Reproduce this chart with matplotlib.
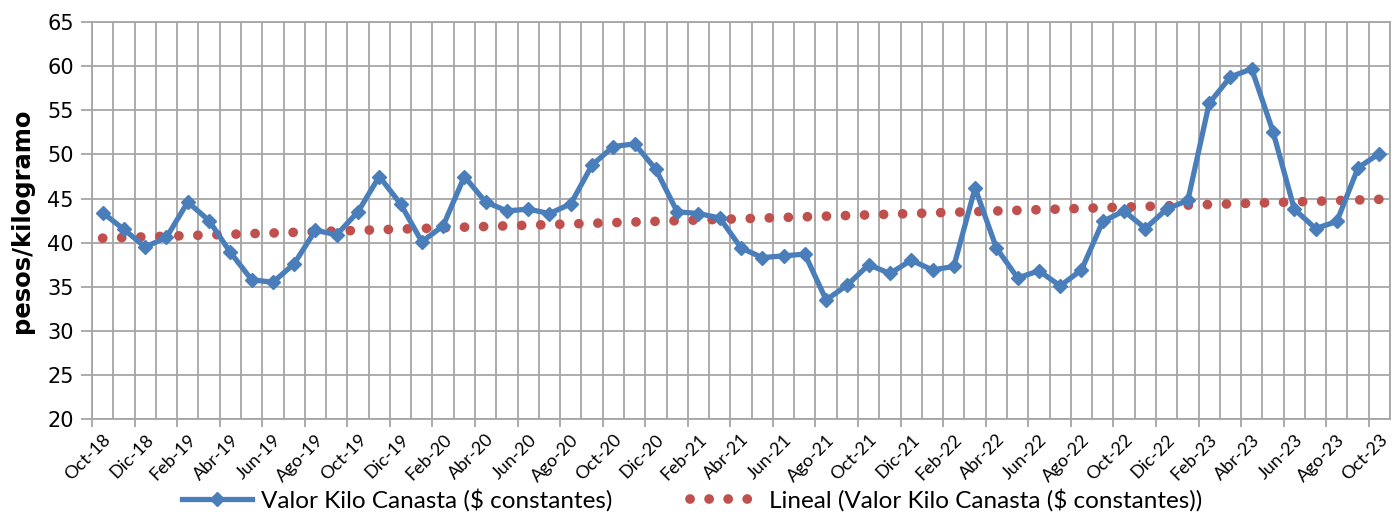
import numpy as np
import matplotlib
matplotlib.use("Agg")
import matplotlib.pyplot as plt

plt.rcParams['font.family'] = ['Lato', 'DejaVu Sans']

# months Oct-18 .. Oct-23
meses = ['Ene', 'Feb', 'Mar', 'Abr', 'May', 'Jun', 'Jul', 'Ago', 'Sep', 'Oct', 'Nov', 'Dic']
periodos = []
for k in range(61):
    m = (9 + k) % 12
    a = 18 + (9 + k) // 12
    periodos.append(meses[m] + '-' + str(a))

# valor kilo canasta ($ constantes)
valor = [43.4, 41.5, 39.5, 40.6, 44.6, 42.5, 38.9, 35.8, 35.5, 37.6,
         41.4, 40.9, 43.5, 47.5, 44.4, 40.1, 41.9, 47.5, 44.6, 43.6,
         43.8, 43.3, 44.4, 48.8, 50.9, 51.2, 48.3, 43.5, 43.3, 42.8,
         39.4, 38.3, 38.5, 38.7, 33.5, 35.2, 37.5, 36.5, 38.0, 36.9,
         37.3, 46.2, 39.4, 36.0, 36.8, 35.1, 36.9, 42.4, 43.6, 41.6,
         43.8, 44.8, 55.8, 58.8, 59.7, 52.6, 43.8, 41.6, 42.4, 48.5,
         50.1]

x = np.arange(len(valor))
# linear trend (Excel "Lineal")
coef = np.polyfit(x, valor, 1)
tendencia = np.polyval(coef, x)

azul = '#4A7EBB'
rojo = '#C0504D'
gris = '#A6A6A6'

fig = plt.figure(figsize=(13.98, 5.16), dpi=100)
ax = fig.add_axes([0.0658, 0.188, 0.9285, 0.769])

# grid
ax.vlines(np.arange(-0.5, len(valor)), 20, 65, color=gris, lw=1.3, zorder=0)
ax.set_yticks(np.arange(20, 66, 5))
ax.grid(axis='y', color=gris, lw=1.3, zorder=0)
ax.set_axisbelow(True)

ax.plot(x, tendencia, color=rojo, lw=7, linestyle=(0, (0.01, 1.95)),
        dash_capstyle='round', label='Lineal (Valor Kilo Canasta ($ constantes))', zorder=2)
ax.plot(x, valor, color=azul, lw=3.8, marker='D', markersize=7,
        label='Valor Kilo Canasta ($ constantes)', zorder=3)

ax.set_xlim(-0.5, len(valor) - 0.5)
ax.set_ylim(20, 65)

ax.set_xticks(x[::2])
ax.set_xticklabels(periodos[::2], rotation=45, ha='right', rotation_mode='anchor', fontsize=13)
ax.set_xticks(np.arange(-0.5, len(valor), 2), minor=True)
ax.tick_params(axis='x', which='major', length=0, pad=9)
ax.tick_params(axis='x', which='minor', length=6, color=gris, width=1.3)
ax.tick_params(axis='y', length=8, color=gris, width=1.3, pad=5)
for t in ax.get_yticklabels():
    t.set_family('DejaVu Sans')
    t.set_fontsize(15)

for s in ax.spines.values():
    s.set_color(gris)
    s.set_linewidth(1.3)

fig.text(22 / 1398, 0.573, 'pesos/kilogramo', rotation=90, ha='center', va='center',
         fontsize=17.5, fontweight='bold', family='DejaVu Sans')

h, l = ax.get_legend_handles_labels()
fig.legend(h[::-1], l[::-1], loc='center', bbox_to_anchor=(0.495, 0.03), ncol=2,
           frameon=False, fontsize=17.5, handlelength=2.9, columnspacing=3.2, handletextpad=0.35)

fig.savefig('out.png', dpi=100)
